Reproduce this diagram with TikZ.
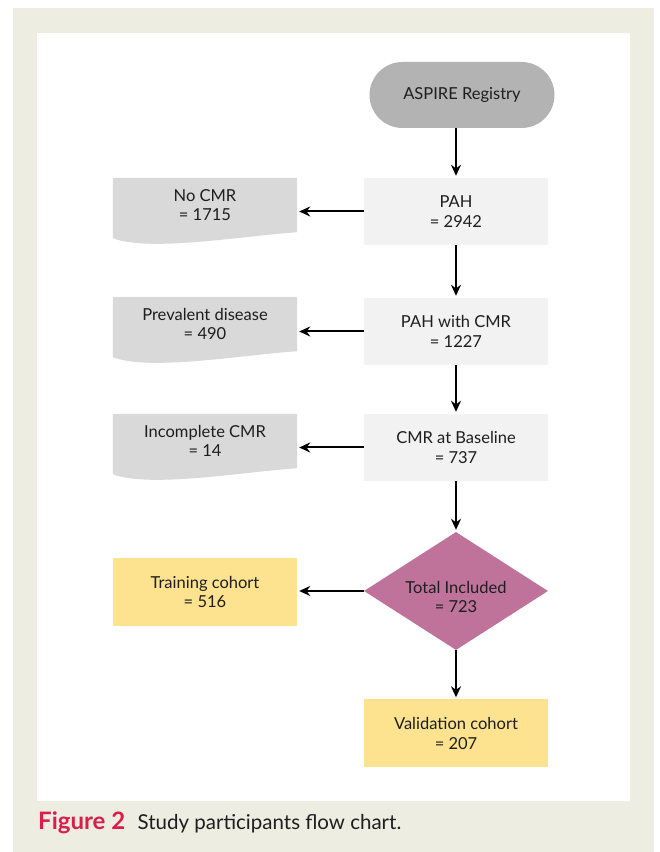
\documentclass[tikz,border=0pt]{standalone}
\usepackage{fontspec}
\setmainfont{Lato}
\usetikzlibrary{positioning,shapes.geometric,arrows.meta,backgrounds}

\definecolor{framebeige}{RGB}{238,237,226}
\definecolor{startgrey}{RGB}{179,179,179}
\definecolor{stepgrey}{RGB}{242,242,242}
\definecolor{docgrey}{RGB}{217,217,217}
\definecolor{totalpink}{RGB}{192,115,154}
\definecolor{cohortyellow}{RGB}{253,227,143}
\definecolor{figred}{RGB}{216,30,75}
\definecolor{inkgrey}{RGB}{30,30,30}

\newcommand{\diagfont}{\fontsize{16.5}{19.5}\selectfont}

% grey page shape with a wavy lower edge
\newcommand{\docfill}[1]{%
  \fill[docgrey] (#1.north west) -- (#1.north east) -- (#1.south east)
    .. controls +(-57pt,-4pt) and +(37pt,-14pt) .. ([yshift=-6pt]#1.south west) -- cycle;}

\tikzset{
  startbox/.style={rectangle, rounded corners=33pt, fill=startgrey, minimum width=185pt, minimum height=66pt, inner sep=0pt, font=\diagfont, text=inkgrey},
  stepbox/.style={rectangle, fill=stepgrey, minimum width=184pt, minimum height=67pt, inner sep=0pt, align=center, font=\diagfont, text=inkgrey},
  docbox/.style={rectangle, minimum width=184pt, minimum height=54pt, inner sep=0pt, align=center, font=\diagfont, text=inkgrey},
  totalbox/.style={diamond, shape aspect=1.56, fill=totalpink, minimum width=184pt, minimum height=118pt, inner sep=0pt, font=\diagfont, text=inkgrey},
  cohortbox/.style={rectangle, fill=cohortyellow, minimum width=184pt, minimum height=68pt, inner sep=0pt, align=center, font=\diagfont, text=inkgrey},
  arr/.style={-{Stealth[length=11pt,width=10pt]}, line width=2pt, shorten >=2pt}
}

\begin{document}
\begin{tikzpicture}[x=1pt,y=1pt]
	\useasboundingbox (0,0) rectangle (660,852);

	\node [startbox] (aspire) at (462,757) {ASPIRE Registry};
	\node [stepbox] (pah) at (456,640.5) {PAH\\= 2942};
	\node [stepbox] (pahcmr) at (456,520.5) {PAH with CMR\\= 1227};
	\node [stepbox] (baseline) at (456,404.5) {CMR at Baseline\\= 737};
	\node [totalbox] (total) at (456,261) {\raisebox{-8pt}[\height][\depth]{\begin{tabular}{@{}c@{}}Total Included\\= 723\end{tabular}}};
	\node [cohortbox] (validation) at (456,118.5) {Validation cohort\\= 207};

	\node [docbox] (nocmr) at (205,647) {No CMR\\= 1715};
	\node [docbox] (prevalent) at (205,528) {Prevalent disease\\= 490};
	\node [docbox] (incomplete) at (205,411) {Incomplete CMR\\= 14};
	\node [cohortbox] (training) at (205,260) {Training cohort\\= 516};

	\begin{scope}[on background layer]
		\fill[framebeige] (13,0) rectangle (654,844);
		\fill[white] (37,51) rectangle (630,819);
		\docfill{nocmr}
		\docfill{prevalent}
		\docfill{incomplete}
	\end{scope}

	\draw [arr] (pah.north |- aspire.south) -- (pah.north);
	\draw [arr] (pah) -- (pahcmr);
	\draw [arr] (pahcmr) -- (baseline);
	\draw [arr] (baseline) -- (total);
	\draw [arr] (total) -- (validation);
	\draw [arr] (pah.west) -- (pah.west -| nocmr.east);
	\draw [arr] (pahcmr.west) -- (pahcmr.west -| prevalent.east);
	\draw [arr] (baseline.west) -- (baseline.west -| incomplete.east);
	\draw [arr] (total.west) -- (total.west -| training.east);

	\node [anchor=base west, inner sep=0pt, font=\fontsize{24}{28}\selectfont\bfseries, text=figred] (figlabel) at (38,22) {Figure 2};
	\node [inner sep=0pt, font=\fontsize{20.5}{24}\selectfont, text=inkgrey, right=12pt of figlabel.base east, anchor=base west] (figtext) {Study participants flow chart.};
\end{tikzpicture}
\end{document}
